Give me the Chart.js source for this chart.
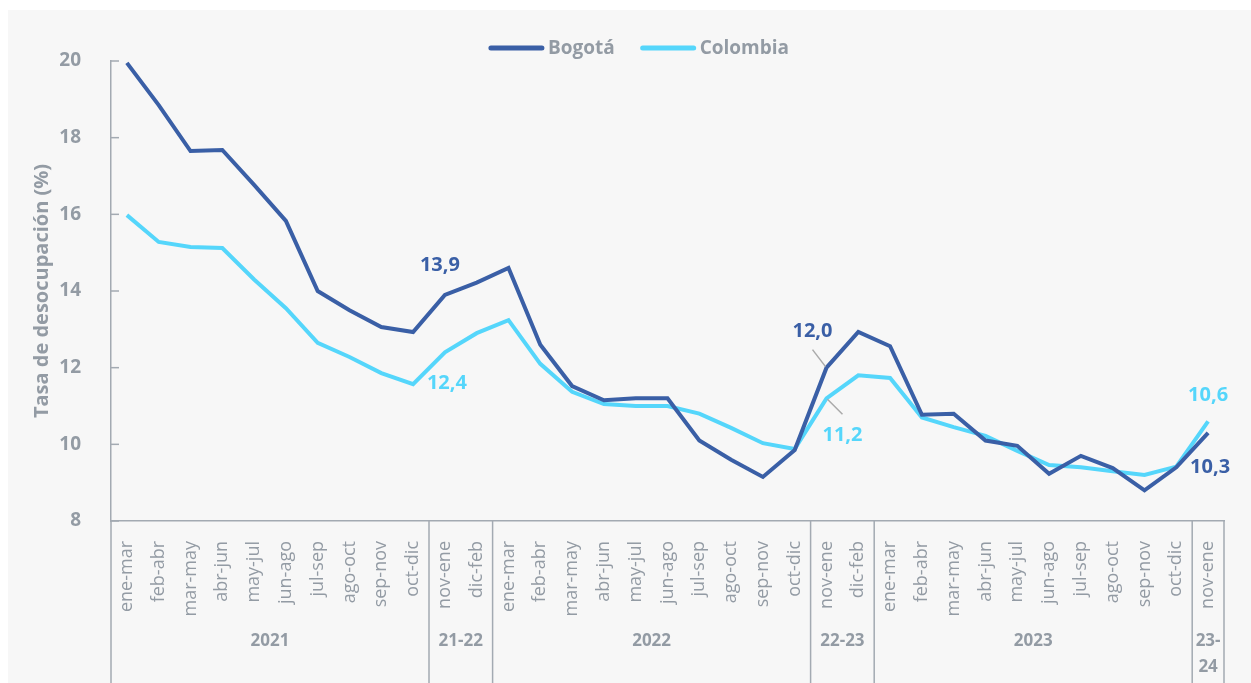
<!DOCTYPE html>
<html>
<head>
<meta charset="utf-8">
<script src="https://cdn.jsdelivr.net/npm/chart.js@4.4.1/dist/chart.umd.min.js"></script>
<style>
  html, body { margin: 0; padding: 0; background: #fff; }
  #wrap { position: absolute; left: 8px; top: 10px; width: 1243px; height: 673px; background: #f7f7f7; }
</style>
</head>
<body>
<div id="wrap"><canvas id="myChart"></canvas></div>
<script>
const categories = [
  'ene-mar', 'feb-abr', 'mar-may', 'abr-jun', 'may-jul', 'jun-ago', 'jul-sep', 'ago-oct', 'sep-nov', 'oct-dic',
  'nov-ene', 'dic-feb',
  'ene-mar', 'feb-abr', 'mar-may', 'abr-jun', 'may-jul', 'jun-ago', 'jul-sep', 'ago-oct', 'sep-nov', 'oct-dic',
  'nov-ene', 'dic-feb',
  'ene-mar', 'feb-abr', 'mar-may', 'abr-jun', 'may-jul', 'jun-ago', 'jul-sep', 'ago-oct', 'sep-nov', 'oct-dic',
  'nov-ene'
];
const bogota = [19.95, 18.85, 17.65, 17.68, 16.77, 15.83, 14.0, 13.5, 13.06, 12.93,
  13.9, 14.22,
  14.6, 12.6, 11.52, 11.15, 11.2, 11.2, 10.1, 9.6, 9.15, 9.85,
  12.0, 12.93,
  12.56, 10.77, 10.8, 10.1, 9.96, 9.23, 9.7, 9.38, 8.8, 9.4,
  10.3];
const colombia = [15.98, 15.28, 15.15, 15.12, 14.3, 13.55, 12.65, 12.28, 11.86, 11.57,
  12.4, 12.9,
  13.24, 12.1, 11.37, 11.05, 11.0, 11.0, 10.8, 10.43, 10.03, 9.88,
  11.2, 11.8,
  11.73, 10.7, 10.45, 10.22, 9.83, 9.46, 9.4, 9.3, 9.2, 9.42,
  10.6];
const groupLabels = ['2021', '21-22', '2022', '22-23', '2023', ['23-', '24']];
const groupSizes = [10, 2, 10, 2, 10, 1];
const calloutPoints = [10, 22, 34];

const gray = '#939ba4';
const axisGray = '#a3aab2';
const darkBlue = '#3a5fa6';
const cyan = '#55d6fb';
const font = "'Open Sans', sans-serif";

// where each value label sits, relative to its point
const calloutStyle = [
  { ds: 0, dx: -5, dy: -30 }, { ds: 1, dx: 2, dy: 31 },
  { ds: 0, dx: -14, dy: -36, leader: [-14, -18, -1, -1] }, { ds: 1, dx: 16, dy: 37, leader: [1, 1, 16, 16] },
  { ds: 1, dx: 0, dy: -26 }, { ds: 0, dx: 2, dy: 34 }
];

const overlay = {
  id: 'overlay',
  afterDatasetsDraw(chart) {
    const { ctx } = chart;
    ctx.save();
    ctx.font = `700 20px ${font}`;
    ctx.textAlign = 'center';
    ctx.textBaseline = 'middle';
    calloutStyle.forEach((c, k) => {
      const idx = calloutPoints[Math.floor(k / 2)];
      const el = chart.getDatasetMeta(c.ds).data[idx];
      const v = chart.data.datasets[c.ds].data[idx];
      if (c.leader) {
        ctx.strokeStyle = '#aaaaaa';
        ctx.lineWidth = 1.5;
        ctx.beginPath();
        ctx.moveTo(el.x + c.leader[0], el.y + c.leader[1]);
        ctx.lineTo(el.x + c.leader[2], el.y + c.leader[3]);
        ctx.stroke();
      }
      ctx.fillStyle = chart.data.datasets[c.ds].borderColor;
      ctx.fillText(v.toFixed(1).replace('.', ','), el.x + c.dx, el.y + c.dy);
    });

    // legend
    ctx.font = `700 19px ${font}`;
    ctx.textAlign = 'left';
    const lineW = 55, gap = 4, itemGap = 26;
    const items = chart.data.datasets.map(d => ({ d, w: ctx.measureText(d.label).width }));
    const total = items.reduce((s, it) => s + lineW + gap + it.w, 0) + itemGap * (items.length - 1);
    let lx = 631 - total / 2;
    const ly = 38;
    items.forEach(it => {
      ctx.strokeStyle = it.d.borderColor;
      ctx.lineWidth = 5;
      ctx.lineCap = 'round';
      ctx.beginPath();
      ctx.moveTo(lx + 2, ly);
      ctx.lineTo(lx + lineW - 2, ly);
      ctx.stroke();
      ctx.fillStyle = gray;
      ctx.fillText(it.d.label, lx + lineW + gap, ly + 1);
      lx += lineW + gap + it.w + itemGap;
    });
    ctx.restore();
  },
  afterDraw(chart) {
    const { ctx, chartArea: a, scales: { x, y } } = chart;
    const H = chart.height;
    ctx.save();
    ctx.strokeStyle = axisGray;
    ctx.lineWidth = 1.5;
    // inward y ticks
    y.ticks.forEach(t => {
      const py = y.getPixelForValue(t.value);
      ctx.beginPath();
      ctx.moveTo(a.left, py);
      ctx.lineTo(a.left + 8, py);
      ctx.stroke();
    });
    // group separators and labels
    ctx.beginPath();
    ctx.moveTo(a.left, a.bottom);
    ctx.lineTo(a.left, H);
    ctx.stroke();
    ctx.font = `700 17px ${font}`;
    ctx.fillStyle = gray;
    ctx.textAlign = 'center';
    ctx.textBaseline = 'middle';
    let start = 0;
    groupSizes.forEach((n, g) => {
      const end = start + n - 1;
      const edge = end === categories.length - 1 ? a.right
        : (x.getPixelForValue(end) + x.getPixelForValue(end + 1)) / 2;
      ctx.beginPath();
      ctx.moveTo(edge, a.bottom);
      ctx.lineTo(edge, H);
      ctx.stroke();
      const cx = (x.getPixelForValue(start) + x.getPixelForValue(end)) / 2;
      const lines = [].concat(groupLabels[g]);
      lines.forEach((s, i) => ctx.fillText(s, cx, a.bottom + 120 + i * 26));
      start += n;
    });
    ctx.restore();
  }
};

const ctx = document.getElementById('myChart');

new Chart(ctx, {
  type: 'line',
  data: {
    labels: categories,
    datasets: [{
      label: 'Bogotá',
      data: bogota,
      borderColor: darkBlue,
      backgroundColor: darkBlue,
      borderWidth: 4,
      pointRadius: 0,
      tension: 0
    }, {
      label: 'Colombia',
      data: colombia,
      borderColor: cyan,
      backgroundColor: cyan,
      borderWidth: 4,
      pointRadius: 0,
      tension: 0
    }]
  },
  options: {
    responsive: true,
    maintainAspectRatio: false,
    animation: false,
    layout: { padding: { top: 51, right: 27, bottom: 0, left: 0 } },
    plugins: {
      legend: { display: false },
      tooltip: { enabled: false }
    },
    scales: {
      x: {
        offset: true,
        grid: { display: false },
        border: { display: true, color: axisGray, width: 1.5 },
        ticks: {
          autoSkip: false,
          maxRotation: 90,
          minRotation: 90,
          padding: 12,
          color: gray,
          font: { family: font, size: 18, weight: '500' }
        },
        afterFit(scale) { scale.height = 162; }
      },
      y: {
        min: 8,
        max: 20,
        grid: { display: false },
        border: { display: true, color: axisGray, width: 1.5 },
        ticks: {
          stepSize: 2,
          padding: 22,
          color: gray,
          font: { family: font, size: 19, weight: '700' }
        },
        title: {
          display: true,
          text: 'Tasa de desocupación (%)',
          color: gray,
          font: { family: font, size: 20, weight: '700' },
          padding: { top: 22, bottom: 0 }
        },
        afterFit(scale) { scale.width = 103; }
      }
    }
  },
  plugins: [overlay]
});
</script>
</body>
</html>
